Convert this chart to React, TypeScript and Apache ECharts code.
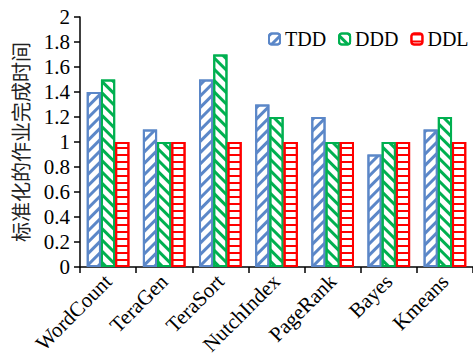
import React, { useEffect, useRef } from "react";
import * as echarts from "echarts";

const categories = ["WordCount", "TeraGen", "TeraSort", "NutchIndex", "PageRank", "Bayes", "Kmeans"];
const tddValues = [1.4, 1.1, 1.5, 1.3, 1.2, 0.9, 1.1];
const dddValues = [1.5, 1.0, 1.7, 1.2, 1.0, 1.0, 1.2];
const ddlValues = [1, 1, 1, 1, 1, 1, 1];
const yTicks = { min: 0, max: 2, interval: 0.2 };

const SERIF = "Liberation Serif";

export default function App() {
  const ref = useRef<HTMLDivElement>(null);
  useEffect(() => {
    document.body.style.margin = "0";
    const chart = echarts.init(ref.current!, undefined, { renderer: "svg" });
    const blue = "#5B87C8";
    const green = "#00B050";
    const red = "#FF0000";
    const mk = (name: string, data: number[], color: string, decal: any) => ({
      name,
      type: "bar",
      data,
      barGap: "0%",
      barCategoryGap: "24%",
      itemStyle: {
        color: "#ffffff",
        borderColor: color,
        borderWidth: 2,
        decal: Object.assign({ color, symbol: "rect", symbolSize: 1 }, decal),
      },
    });
    chart.setOption({
      animation: false,
      textStyle: { fontFamily: SERIF },
      grid: { left: 80, right: 0, top: 17, bottom: 91 },
      legend: {
        left: 263,
        top: 24,
        width: 210,
        itemWidth: 11,
        itemHeight: 11,
        itemGap: 12,
        textStyle: { fontFamily: SERIF, fontSize: 20, color: "#000" },
        data: ["TDD", "DDD", "DDL"],
      },
      xAxis: {
        type: "category",
        data: categories,
        axisLine: { lineStyle: { color: "#000", width: 1.5 } },
        axisTick: { show: true, length: 6, lineStyle: { color: "#000", width: 1.5 } },
        axisLabel: { rotate: 45, fontFamily: SERIF, fontSize: 21, color: "#000", margin: 11, interval: 0 },
      },
      yAxis: {
        type: "value",
        min: yTicks.min,
        max: yTicks.max,
        interval: yTicks.interval,
        name: "标准化的作业完成时间",
        nameLocation: "middle",
        nameGap: 50,
        nameTextStyle: { fontFamily: "Noto Sans CJK SC", fontSize: 20, color: "#222" },
        splitLine: { show: false },
        axisLine: { show: true, lineStyle: { color: "#000", width: 1.5 } },
        axisTick: { show: true, length: 6, lineStyle: { color: "#000", width: 1.5 } },
        axisLabel: { fontFamily: SERIF, fontSize: 21, color: "#000", margin: 10 },
      },
      series: [
        mk("TDD", tddValues, blue, { dashArrayX: [1, 0], dashArrayY: [3, 5], rotation: -Math.PI / 4 }),
        mk("DDD", dddValues, green, { dashArrayX: [1, 0], dashArrayY: [3, 5], rotation: Math.PI / 4 }),
        mk("DDL", ddlValues, red, { dashArrayX: [1, 0], dashArrayY: [2, 5], rotation: 0 }),
      ],
    });
    return () => chart.dispose();
  }, []);
  return <div ref={ref} style={{ width: 473, height: 358 }} />;
}
